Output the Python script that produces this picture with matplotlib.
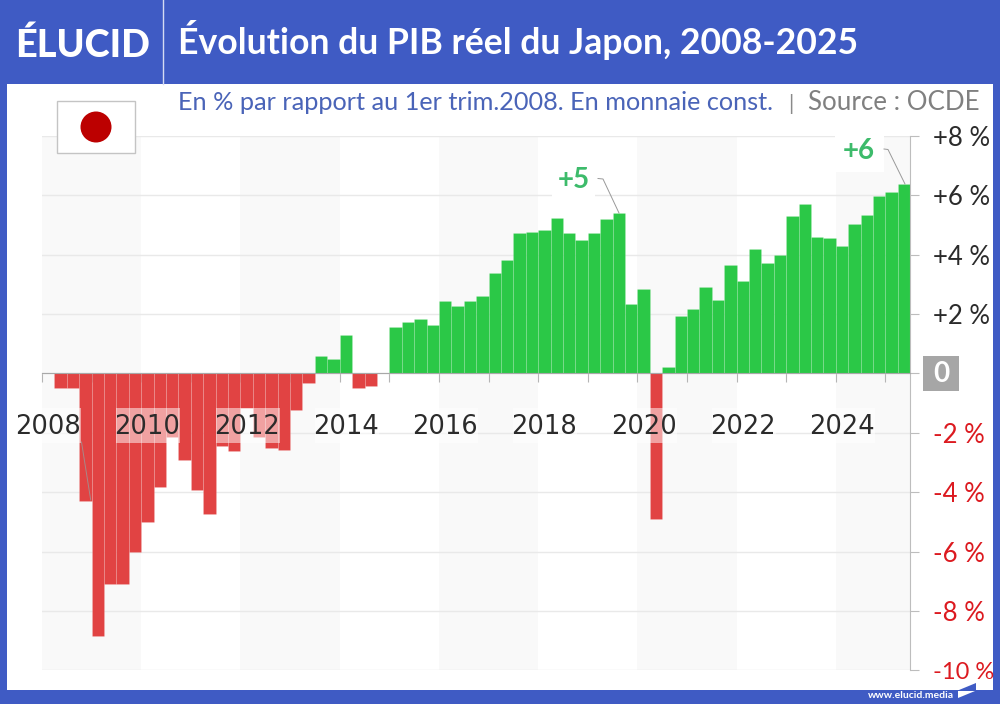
import matplotlib
matplotlib.use("Agg")
import matplotlib.pyplot as plt
from matplotlib.patches import Rectangle, Circle, Polygon

# PIB reel du Japon, trimestres 2008T1 -> 2025T2, en % par rapport a 2008T1
values = [
    0, -0.48, -0.48, -4.29, -8.85, -7.08, -7.11, -6.0,
    -4.99, -3.83, -2.13, -2.93, -3.92, -4.74, -2.45, -2.6,
    -1.18, -2.13, -2.5, -2.57, -1.23, -0.32, 0.58, 0.47,
    1.29, -0.5, -0.43, 0, 1.57, 1.72, 1.82, 1.63,
    2.43, 2.25, 2.45, 2.6, 3.37, 3.81, 4.71, 4.76,
    4.83, 5.23, 4.74, 4.48, 4.71, 5.19, 5.39, 2.34,
    2.85, -4.92, 0.21, 1.93, 2.17, 2.9, 2.47, 3.63,
    3.1, 4.2, 3.7, 3.99, 5.28, 5.7, 4.6, 4.55,
    4.27, 5.03, 5.33, 5.96, 6.11, 6.39,
]
start_year = 2008
year_labels = [2008, 2010, 2012, 2014, 2016, 2018, 2020, 2022, 2024]
y_ticks = [8, 6, 4, 2, 0, -2, -4, -6, -8, -10]
y_labels = ["+8 %", "+6 %", "+4 %", "+2 %", "", "-2 %", "-4 %", "-6 %", "-8 %", "-10 %"]

title = "Évolution du PIB réel du Japon, 2008-2025"
subtitle = "En % par rapport au 1er trim.2008. En monnaie const."
source = "Source : OCDE"

BLUE = "#3f5bc4"
GREEN = "#2bc847"
RED = "#e14343"
LABEL_GREEN = "#3dbb6b"
GRID = "#e9e9e9"
W, H = 1000, 704

plt.rcParams["font.family"] = ["Lato", "DejaVu Sans"]

fig = plt.figure(figsize=(W / 100, H / 100), dpi=100, facecolor=BLUE)

# calque en pixels pour le cadre, le titre, le drapeau
bg = fig.add_axes([0, 0, 1, 1], zorder=0)
bg.set_xlim(0, W)
bg.set_ylim(H, 0)
bg.axis("off")
bg.add_patch(Rectangle((7, 84), 986, 606, fc="white", ec="none"))

# axes du graphique
left, right, top, bottom = 42, 910.3, 135.7, 670.3
ax = fig.add_axes([left / W, 1 - bottom / H, (right - left) / W, (bottom - top) / H], zorder=1)
ax.patch.set_alpha(0)
ax.set_xlim(start_year, start_year + len(values) / 4)
ax.set_ylim(-10, 8)

# bandes grises une periode de 2 ans sur 2
for y in year_labels[::2]:
    ax.axvspan(y, min(y + 2, start_year + len(values) / 4), color="#f9f9f9", lw=0, zorder=0)

ax.set_yticks(y_ticks)
ax.grid(axis="y", color=GRID, lw=1, zorder=1)
ax.set_axisbelow(True)

xs = [start_year + i / 4 for i in range(len(values))]
colors = [GREEN if v >= 0 else RED for v in values]
ax.bar(xs, values, width=0.25, align="edge", color=colors, edgecolor="#ffffff38", lw=0.4, zorder=2)

for s in ["top", "left"]:
    ax.spines[s].set_visible(False)
ax.spines["right"].set_color("#bdbdbd")
ax.spines["bottom"].set_position(("data", 0))
ax.spines["bottom"].set_color("#a8a8a8")
ax.spines["bottom"].set_zorder(3)

ax.set_xticks(range(start_year, start_year + 18))
ax.set_xticklabels([])
ax.tick_params(axis="x", length=6.5, width=0.8, color="#b5b5b5", direction="out")

ax.yaxis.tick_right()
ax.set_yticklabels(y_labels, fontsize=18.5, ha="left")
ax.tick_params(axis="y", length=6.5, width=0.8, color="#bdbdbd", pad=10)
for lab, t in zip(ax.get_yticklabels(), y_ticks):
    lab.set_color("#dc1a20" if t < 0 else "#2b2b2b")
    if t == -10:
        lab.set_fontsize(17)

# annees sur les barres, fond blanc transparent
for y in year_labels:
    ax.add_patch(Rectangle((y - 0.5, -2.36), 1.29, 1.18, fc="white", ec="none", alpha=0.5,
                           zorder=3, clip_on=False))
    ax.text(y + 0.125, -1.81, str(y), fontsize=18.5, family="DejaVu Sans", color="#2b2b2b",
            ha="center", va="center", zorder=4)

# calque du dessus
fg = fig.add_axes([0, 0, 1, 1], zorder=2)
fg.set_xlim(0, W)
fg.set_ylim(H, 0)
fg.axis("off")
fg.patch.set_alpha(0)

# zero dans sa boite grise
fg.add_patch(Rectangle((923, 356), 36, 35, fc="#a6a6a6", ec="none"))
fg.text(941, 373.5, "0", color="white", fontsize=20, fontweight="bold", ha="center", va="center")

# etiquettes +5 et +6 avec leur trait
fg.text(573.5, 180, "+5", color=LABEL_GREEN, fontsize=20, fontweight="bold", ha="center", va="center",
        bbox=dict(fc="white", ec="none", pad=4))
fg.plot([598, 603, 619], [178.5, 179, 213], color="#999999", lw=0.7)
fg.add_patch(Rectangle((835, 130), 49, 42, fc="white", ec="none", zorder=1))
fg.text(858.5, 151, "+6", color=LABEL_GREEN, fontsize=20, fontweight="bold", ha="center", va="center", zorder=2)
fg.plot([884, 888, 905], [149, 149.5, 184], color="#999999", lw=0.7)
# trait residuel sur la barre de 2008
fg.plot([81.5, 90.7], [442, 500], color="#999999", lw=0.7, alpha=0.8)

# drapeau
fg.add_patch(Rectangle((57, 101), 78, 52, fc="white", ec="#c4c4c4", lw=1, zorder=3))
fg.add_patch(Circle((96, 127), 15.5, fc="#bc0000", ec="none", zorder=4))

# bandeau
fg.plot([162.5, 162.5], [0, 84], color="#d5dbf2", lw=1)
fg.text(15, 42, "ÉLUCID", color="white", fontsize=27.3, fontweight=900, ha="left", va="center_baseline")
fg.text(178, 53.5, title, color="white", fontsize=25.7, fontweight="bold", ha="left", va="baseline")

fg.text(178, 110, subtitle, color="#4a64b8", fontsize=18.2, ha="left", va="baseline")
fg.text(791, 110, "|", color="#8a8a8a", fontsize=15, ha="center", va="baseline")
fg.text(808, 110, source, color="#808080", fontsize=18.6, ha="left", va="baseline")

# pied de page
fg.text(954, 695.5, "www.elucid.media", color="white", fontsize=7.5, fontweight="bold", ha="right", va="center")
fg.add_patch(Polygon([(959, 690), (976, 683), (976, 690)], fc=BLUE, ec="none"))
fg.add_patch(Polygon([(958, 691), (975, 691), (958, 698)], fc="white", ec="none"))

fig.savefig("out.png", dpi=100, facecolor=BLUE)
